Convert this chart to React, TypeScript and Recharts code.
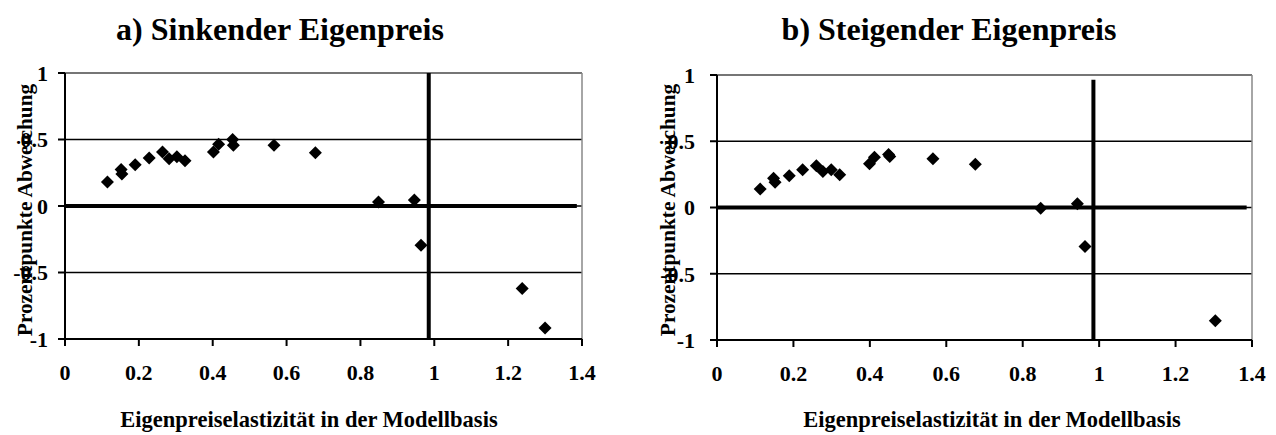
import { CartesianGrid, ReferenceLine, Scatter, ScatterChart, XAxis, YAxis } from "recharts";

// panel a) falling own price
const elastA = [0.115, 0.152, 0.154, 0.19, 0.228, 0.264, 0.282, 0.303, 0.325, 0.402, 0.416, 0.454, 0.456, 0.566, 0.678, 0.849, 0.946, 0.964, 1.238, 1.3];
const devA = [0.18, 0.275, 0.24, 0.31, 0.36, 0.406, 0.356, 0.37, 0.34, 0.406, 0.464, 0.5, 0.456, 0.456, 0.4, 0.03, 0.045, -0.295, -0.62, -0.917];

// panel b) rising own price
const elastB = [0.113, 0.148, 0.152, 0.189, 0.224, 0.26, 0.277, 0.299, 0.321, 0.399, 0.412, 0.449, 0.452, 0.565, 0.676, 0.847, 0.943, 0.963, 1.304];
const devB = [0.139, 0.22, 0.19, 0.239, 0.285, 0.315, 0.272, 0.285, 0.247, 0.33, 0.38, 0.4, 0.385, 0.368, 0.327, -0.005, 0.028, -0.294, -0.855];

const xTicks = [0, 0.2, 0.4, 0.6, 0.8, 1, 1.2, 1.4];
const yTicks = [-1, -0.5, 0, 0.5, 1];

const FONT = '"Liberation Serif", "Times New Roman", serif';

const toPoints = (xs: number[], ys: number[]) => xs.map((x, i) => ({ x, y: ys[i] }));

function Diamond(props: any) {
  const { cx, cy } = props;
  const r = 6.5;
  return <path d={`M${cx},${cy - r}L${cx + r},${cy}L${cx},${cy + r}L${cx - r},${cy}Z`} fill="#000" />;
}

function XTick({ x, y, payload }: any) {
  return (
    <text x={x} y={y} dy="0.71em" textAnchor="middle" fontSize={22} fontWeight="bold" fontFamily={FONT} fill="#000">
      {payload.value}
    </text>
  );
}

function YTick({ x, y, payload }: any) {
  return (
    <text x={x} y={y} dy="0.36em" textAnchor="end" fontSize={22} fontWeight="bold" fontFamily={FONT} fill="#000">
      {payload.value}
    </text>
  );
}

interface PanelProps {
  data: { x: number; y: number }[];
  left: number;
  margin: { top: number; right: number; bottom: number; left: number };
  yTickMargin: number;
  vLineTop: number;
  title: string;
  titleX: number;
  xTitleX: number;
  yTitleX: number;
}

function Panel({ data, left, margin, yTickMargin, vLineTop, title, titleX, xTitleX, yTitleX }: PanelProps) {
  return (
    <div style={{ position: "absolute", left, top: 0, width: 638, height: 435 }}>
      <ScatterChart width={638} height={435} margin={margin}>
        <CartesianGrid vertical={false} stroke="#000" strokeWidth={1.5} />
        <XAxis
          type="number"
          dataKey="x"
          domain={[0, 1.4]}
          ticks={xTicks}
          interval={0}
          height={30}
          tick={XTick}
          tickSize={7}
          tickMargin={18}
          axisLine={{ stroke: "#000", strokeWidth: 2 }}
          tickLine={{ stroke: "#000", strokeWidth: 2 }}
        />
        <YAxis
          type="number"
          dataKey="y"
          domain={[-1, 1]}
          ticks={yTicks}
          interval={0}
          width={60}
          tick={YTick}
          tickSize={7}
          tickMargin={yTickMargin}
          axisLine={{ stroke: "#000", strokeWidth: 2 }}
          tickLine={{ stroke: "#000", strokeWidth: 2 }}
        />
        <ReferenceLine y={1} stroke="#888" strokeWidth={1.5} />
        <ReferenceLine x={1.4} stroke="#888" strokeWidth={1.5} />
        <ReferenceLine segment={[{ x: 0, y: 0 }, { x: 1.386, y: 0 }]} stroke="#000" strokeWidth={4} />
        <ReferenceLine segment={[{ x: 0.985, y: vLineTop }, { x: 0.985, y: -1 }]} stroke="#000" strokeWidth={4} />
        <Scatter data={data} shape={Diamond} isAnimationActive={false} />
      </ScatterChart>
      <div
        style={{
          position: "absolute",
          left: titleX - 250,
          width: 500,
          top: 11,
          textAlign: "center",
          fontFamily: FONT,
          fontWeight: "bold",
          fontSize: 32,
          lineHeight: "36px",
          whiteSpace: "nowrap",
        }}
      >
        {title}
      </div>
      <div
        style={{
          position: "absolute",
          left: xTitleX - 250,
          width: 500,
          top: 407,
          textAlign: "center",
          fontFamily: FONT,
          fontWeight: "bold",
          fontSize: 22.5,
          lineHeight: "26px",
          whiteSpace: "nowrap",
        }}
      >
        Eigenpreiselastizität in der Modellbasis
      </div>
      <div
        style={{
          position: "absolute",
          left: yTitleX - 150,
          width: 300,
          top: 198,
          textAlign: "center",
          fontFamily: FONT,
          fontWeight: "bold",
          fontSize: 21.3,
          lineHeight: "24px",
          whiteSpace: "nowrap",
          transform: "rotate(-90deg)",
        }}
      >
        Prozentpunkte Abweichung
      </div>
    </div>
  );
}

export default function App() {
  return (
    <div style={{ position: "absolute", left: 0, top: 0, width: 1276, height: 435, background: "#fff" }}>
      <Panel
        data={toPoints(elastA, devA)}
        left={0}
        margin={{ top: 73, right: 56, bottom: 66, left: 5 }}
        yTickMargin={10}
        vLineTop={1}
        title="a) Sinkender Eigenpreis"
        titleX={280}
        xTitleX={309}
        yTitleX={25}
      />
      <Panel
        data={toPoints(elastB, devB)}
        left={638}
        margin={{ top: 75, right: 24, bottom: 65, left: 19 }}
        yTickMargin={15}
        vLineTop={0.964}
        title="b) Steigender Eigenpreis"
        titleX={311}
        xTitleX={354}
        yTitleX={30}
      />
    </div>
  );
}
